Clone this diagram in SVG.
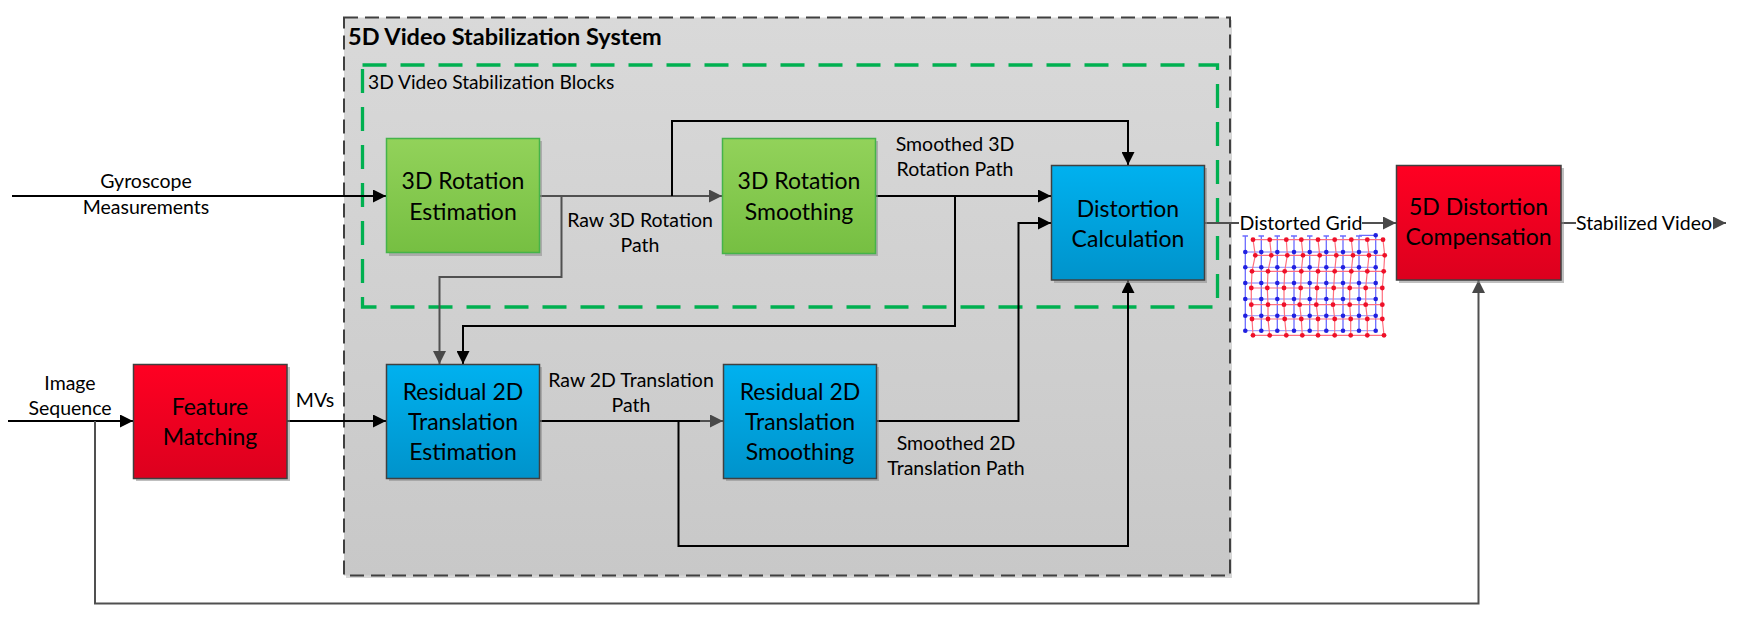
<svg xmlns="http://www.w3.org/2000/svg" width="1744" height="634" viewBox="0 0 1744 634">
<style>
text{font-family:Lato,"Liberation Sans",sans-serif;fill:#000}
.lbl{font-size:19.5px;text-anchor:middle}
.bt{font-size:23px;text-anchor:middle}
.title{font-size:23.5px;font-weight:bold}
.sub{font-size:19.2px}
.k{stroke:#000;stroke-width:2;fill:none}
.g{stroke:#505050;stroke-width:2;fill:none}
.shadow{fill:#8a8a8a;opacity:0.55}
.bl{stroke:#404040;stroke-width:1.5}
.bg{stroke:#45b34a;stroke-width:1.5}
.gl{stroke:#6b6bff;stroke-width:1.3;fill:none}
.rl{stroke:#ff6f7f;stroke-width:1.2;fill:none}
.bd{fill:#2020e0}
.rd{fill:#ee1028}
</style>
<defs>
<linearGradient id="gGreen" x1="0" y1="0" x2="0" y2="1"><stop offset="0" stop-color="#92d25a"/><stop offset="1" stop-color="#76bf42"/></linearGradient>
<linearGradient id="gBlue" x1="0" y1="0" x2="0" y2="1"><stop offset="0" stop-color="#00b1ef"/><stop offset="1" stop-color="#0093cb"/></linearGradient>
<linearGradient id="gRed" x1="0" y1="0" x2="0" y2="1"><stop offset="0" stop-color="#ff0022"/><stop offset="1" stop-color="#dc001e"/></linearGradient>
<linearGradient id="gSys" x1="0" y1="0" x2="0" y2="1"><stop offset="0" stop-color="#d9d9d9"/><stop offset="1" stop-color="#c8c8c8"/></linearGradient>
<marker id="aK" markerUnits="userSpaceOnUse" markerWidth="14" markerHeight="13" refX="13" refY="6.5" orient="auto"><path d="M0,0 L13,6.5 L0,13 z" fill="#000"/></marker>
<marker id="aG" markerUnits="userSpaceOnUse" markerWidth="14" markerHeight="13" refX="13" refY="6.5" orient="auto"><path d="M0,0 L13,6.5 L0,13 z" fill="#484848"/></marker>
</defs>

<g id="system">
<rect x="346" y="20" width="886" height="558" fill="#b0b0b0" opacity="0.5"/>
<rect x="344" y="17.5" width="886" height="558" fill="url(#gSys)" stroke="#404040" stroke-width="2" stroke-dasharray="14 7"/>
<text class="title" x="348" y="45">5D Video Stabilization System</text>
</g>
<g id="blocks3d">
<rect x="362.5" y="65" width="855" height="242" fill="none" stroke="#00b050" stroke-width="3.3" stroke-dasharray="24 14"/>
<text class="sub" x="368" y="89">3D Video Stabilization Blocks</text>
</g>

<g id="connectors">
<path class="k" d="M12,196 H386" marker-end="url(#aK)"/>
<path class="g" d="M539,196 H722" marker-end="url(#aG)"/>
<path class="k" d="M672,196 V121 H1128 V165" marker-end="url(#aK)"/>
<path class="g" d="M561.5,196 V277 H439.5 V364" marker-end="url(#aG)"/>
<path class="k" d="M876,196 H1051" marker-end="url(#aK)"/>
<path class="k" d="M955,196 V326 H463 V364" marker-end="url(#aK)"/>
<path class="k" d="M8,421 H133" marker-end="url(#aK)"/>
<path class="k" d="M287,421 H386" marker-end="url(#aK)"/>
<path class="k" d="M539,421 H700"/>
<path class="g" d="M700,421 H723" marker-end="url(#aG)"/>
<path class="k" d="M678.5,421 V546 H1128 V280" marker-end="url(#aK)"/>
<path class="k" d="M877,421 H1018.5 V223 H1051" marker-end="url(#aK)"/>
<path class="g" d="M1204,223 H1239"/>
<path class="g" d="M1362,223 H1396" marker-end="url(#aG)"/>
<path class="g" d="M1561,223 H1576"/>
<path class="g" d="M1713,223 H1726" marker-end="url(#aG)"/>
<path class="g" d="M95,421 V603.5 H1478.5 V280" marker-end="url(#aG)"/>
</g>

<g id="labels">
<text class="lbl" x="146" y="188">Gyroscope</text>
<text class="lbl" x="146" y="214">Measurements</text>
<text class="lbl" x="640" y="227">Raw 3D Rotation</text>
<text class="lbl" x="640" y="252">Path</text>
<text class="lbl" x="955" y="151">Smoothed 3D</text>
<text class="lbl" x="955" y="176">Rotation Path</text>
<text class="lbl" x="70" y="390">Image</text>
<text class="lbl" x="70" y="415">Sequence</text>
<text class="lbl" x="315" y="407">MVs</text>
<text class="lbl" x="631" y="387">Raw 2D Translation</text>
<text class="lbl" x="631" y="412">Path</text>
<text class="lbl" x="956" y="450">Smoothed 2D</text>
<text class="lbl" x="956" y="475">Translation Path</text>
<text class="lbl" x="1301" y="229.5">Distorted Grid</text>
<text class="lbl" x="1644" y="229.5">Stabilized Video</text>
</g>

<g id="rot-est">
<rect class="shadow" x="389" y="141" width="153" height="115"/>
<rect class="bg" x="386.5" y="138.5" width="153" height="114" fill="url(#gGreen)"/>
<text class="bt" x="463" y="188.5">3D Rotation</text>
<text class="bt" x="463" y="219.5">Estimation</text>
</g>
<g id="rot-smooth">
<rect class="shadow" x="725" y="141" width="153" height="115"/>
<rect class="bg" x="722.5" y="138.5" width="153" height="115" fill="url(#gGreen)"/>
<text class="bt" x="799" y="188.5">3D Rotation</text>
<text class="bt" x="799" y="219.5">Smoothing</text>
</g>
<g id="distortion-calc">
<rect class="shadow" x="1054" y="168" width="153" height="115"/>
<rect class="bl" x="1051.5" y="165.5" width="153" height="114.5" fill="url(#gBlue)"/>
<text class="bt" x="1128" y="216.5">Distortion</text>
<text class="bt" x="1128" y="246.5">Calculation</text>
</g>
<g id="compensation">
<rect class="shadow" x="1399" y="168" width="165" height="115"/>
<rect class="bl" x="1396.5" y="165.5" width="164.5" height="114.5" fill="url(#gRed)"/>
<text class="bt" x="1478.5" y="215">5D Distortion</text>
<text class="bt" x="1478.5" y="245">Compensation</text>
</g>
<g id="feature-matching">
<rect class="shadow" x="136" y="367" width="154" height="114"/>
<rect class="bl" x="133.5" y="364.5" width="153.5" height="114" fill="url(#gRed)"/>
<text class="bt" x="210" y="415">Feature</text>
<text class="bt" x="210" y="445">Matching</text>
</g>
<g id="trans-est">
<rect class="shadow" x="389" y="367" width="153" height="114"/>
<rect class="bl" x="386.5" y="364.5" width="153" height="114" fill="url(#gBlue)"/>
<text class="bt" x="463" y="400">Residual 2D</text>
<text class="bt" x="463" y="430">Translation</text>
<text class="bt" x="463" y="460">Estimation</text>
</g>
<g id="trans-smooth">
<rect class="shadow" x="726" y="367" width="153" height="114"/>
<rect class="bl" x="723.5" y="364.5" width="153" height="114" fill="url(#gBlue)"/>
<text class="bt" x="800" y="400">Residual 2D</text>
<text class="bt" x="800" y="430">Translation</text>
<text class="bt" x="800" y="460">Smoothing</text>
</g>

<g id="distorted-grid">
<g class="gl">
<path d="M1245.3,236 V331 M1261.3,236 V331 M1277.3,236 V331 M1294,236 V331 M1309.7,236 V331 M1326.3,236 V331 M1343,236 V331 M1359,236 V331 M1375.7,236 V331"/>
<path d="M1245.3,252 H1375.7 M1245.3,267.3 H1375.7 M1245.3,283 H1375.7 M1245.3,299 H1375.7 M1245.3,315.7 H1375.7 M1245.3,330.7 H1375.7" opacity="0.6"/>
<path d="M1242.5,236 H1248 M1258.5,236 H1264 M1274.5,236 H1280 M1291,236 H1297 M1307,236 H1312.5 M1323.5,236 H1329 M1340,236 H1346 M1356,236 H1362 M1359,235.3 H1375.7"/>
</g>
<g class="rl">
<path d="M1253,239.7 L1269.7,239.7 L1286.3,239.7 L1301.3,239.7 L1318,239.7 L1334.7,239.7 L1351.3,239.7 L1367.3,239.7 L1383,239.7"/>
<path d="M1255.3,255.3 L1271.3,255.3 L1287.3,255.3 L1303,255.3 L1319.7,255.3 L1336.3,255.3 L1353,255.3 L1369,255.3 L1384.7,255.3"/>
<path d="M1252,271.3 L1268,271.3 L1284.7,271.3 L1301.3,271.3 L1318,271.3 L1334.7,271.3 L1351.3,271.3 L1367.3,271.3 L1383.7,271.3"/>
<path d="M1251.3,288 L1267.3,288 L1284,288 L1300.7,288 L1317,288 L1333.7,288 L1349.7,288 L1365.7,288 L1382.3,288"/>
<path d="M1251.3,304.7 L1268,304.7 L1284,304.7 L1299.7,304.7 L1316.3,304.7 L1333,304.7 L1349.7,304.7 L1365.7,304.7 L1382.3,304.7"/>
<path d="M1252,319 L1268,319 L1284.7,319 L1301.3,319 L1318,319 L1334.7,319 L1350.7,319 L1367.3,319 L1382.3,319"/>
<path d="M1253,335.3 L1269.7,335.3 L1286.3,335.3 L1302.3,335.3 L1318,335.3 L1334.7,335.3 L1350.7,335.3 L1367.3,335.3 L1384,335.3"/>
<path d="M1253,239.7 L1255.3,255.3 L1252,271.3 L1251.3,288 L1251.3,304.7 L1252,319 L1253,335.3"/>
<path d="M1269.7,239.7 L1271.3,255.3 L1268,271.3 L1267.3,288 L1268,304.7 L1268,319 L1269.7,335.3"/>
<path d="M1286.3,239.7 L1287.3,255.3 L1284.7,271.3 L1284,288 L1284,304.7 L1284.7,319 L1286.3,335.3"/>
<path d="M1301.3,239.7 L1303,255.3 L1301.3,271.3 L1300.7,288 L1299.7,304.7 L1301.3,319 L1302.3,335.3"/>
<path d="M1318,239.7 L1319.7,255.3 L1318,271.3 L1317,288 L1316.3,304.7 L1318,319 L1318,335.3"/>
<path d="M1334.7,239.7 L1336.3,255.3 L1334.7,271.3 L1333.7,288 L1333,304.7 L1334.7,319 L1334.7,335.3"/>
<path d="M1351.3,239.7 L1353,255.3 L1351.3,271.3 L1349.7,288 L1349.7,304.7 L1350.7,319 L1350.7,335.3"/>
<path d="M1367.3,239.7 L1369,255.3 L1367.3,271.3 L1365.7,288 L1365.7,304.7 L1367.3,319 L1367.3,335.3"/>
<path d="M1383,239.7 L1384.7,255.3 L1383.7,271.3 L1382.3,288 L1382.3,304.7 L1382.3,319 L1384,335.3"/>
</g>
<g class="bd">
<circle cx="1375.7" cy="235.3" r="2.3"/>
<circle cx="1245.3" cy="252" r="2.3"/><circle cx="1261.3" cy="252" r="2.3"/><circle cx="1277.3" cy="252" r="2.3"/><circle cx="1294" cy="252" r="2.3"/><circle cx="1309.7" cy="252" r="2.3"/><circle cx="1326.3" cy="252" r="2.3"/><circle cx="1343" cy="252" r="2.3"/><circle cx="1359" cy="252" r="2.3"/><circle cx="1375.7" cy="252" r="2.3"/>
<circle cx="1245.3" cy="267.3" r="2.3"/><circle cx="1261.3" cy="267.3" r="2.3"/><circle cx="1277.3" cy="267.3" r="2.3"/><circle cx="1294" cy="267.3" r="2.3"/><circle cx="1309.7" cy="267.3" r="2.3"/><circle cx="1326.3" cy="267.3" r="2.3"/><circle cx="1343" cy="267.3" r="2.3"/><circle cx="1359" cy="267.3" r="2.3"/><circle cx="1375.7" cy="267.3" r="2.3"/>
<circle cx="1245.3" cy="283" r="2.3"/><circle cx="1261.3" cy="283" r="2.3"/><circle cx="1277.3" cy="283" r="2.3"/><circle cx="1294" cy="283" r="2.3"/><circle cx="1309.7" cy="283" r="2.3"/><circle cx="1326.3" cy="283" r="2.3"/><circle cx="1343" cy="283" r="2.3"/><circle cx="1359" cy="283" r="2.3"/><circle cx="1375.7" cy="283" r="2.3"/>
<circle cx="1245.3" cy="299" r="2.3"/><circle cx="1261.3" cy="299" r="2.3"/><circle cx="1277.3" cy="299" r="2.3"/><circle cx="1294" cy="299" r="2.3"/><circle cx="1309.7" cy="299" r="2.3"/><circle cx="1326.3" cy="299" r="2.3"/><circle cx="1343" cy="299" r="2.3"/><circle cx="1359" cy="299" r="2.3"/><circle cx="1375.7" cy="299" r="2.3"/>
<circle cx="1245.3" cy="315.7" r="2.3"/><circle cx="1261.3" cy="315.7" r="2.3"/><circle cx="1277.3" cy="315.7" r="2.3"/><circle cx="1294" cy="315.7" r="2.3"/><circle cx="1309.7" cy="315.7" r="2.3"/><circle cx="1326.3" cy="315.7" r="2.3"/><circle cx="1343" cy="315.7" r="2.3"/><circle cx="1359" cy="315.7" r="2.3"/><circle cx="1375.7" cy="315.7" r="2.3"/>
<circle cx="1245.3" cy="330.7" r="2.3"/><circle cx="1261.3" cy="330.7" r="2.3"/><circle cx="1277.3" cy="330.7" r="2.3"/><circle cx="1294" cy="330.7" r="2.3"/><circle cx="1309.7" cy="330.7" r="2.3"/><circle cx="1326.3" cy="330.7" r="2.3"/><circle cx="1343" cy="330.7" r="2.3"/><circle cx="1359" cy="330.7" r="2.3"/><circle cx="1375.7" cy="330.7" r="2.3"/>
</g>
<g class="rd">
<circle cx="1253" cy="239.7" r="2.4"/><circle cx="1269.7" cy="239.7" r="2.4"/><circle cx="1286.3" cy="239.7" r="2.4"/><circle cx="1301.3" cy="239.7" r="2.4"/><circle cx="1318" cy="239.7" r="2.4"/><circle cx="1334.7" cy="239.7" r="2.4"/><circle cx="1351.3" cy="239.7" r="2.4"/><circle cx="1367.3" cy="239.7" r="2.4"/><circle cx="1383" cy="239.7" r="2.4"/>
<circle cx="1255.3" cy="255.3" r="2.4"/><circle cx="1271.3" cy="255.3" r="2.4"/><circle cx="1287.3" cy="255.3" r="2.4"/><circle cx="1303" cy="255.3" r="2.4"/><circle cx="1319.7" cy="255.3" r="2.4"/><circle cx="1336.3" cy="255.3" r="2.4"/><circle cx="1353" cy="255.3" r="2.4"/><circle cx="1369" cy="255.3" r="2.4"/><circle cx="1384.7" cy="255.3" r="2.4"/>
<circle cx="1252" cy="271.3" r="2.4"/><circle cx="1268" cy="271.3" r="2.4"/><circle cx="1284.7" cy="271.3" r="2.4"/><circle cx="1301.3" cy="271.3" r="2.4"/><circle cx="1318" cy="271.3" r="2.4"/><circle cx="1334.7" cy="271.3" r="2.4"/><circle cx="1351.3" cy="271.3" r="2.4"/><circle cx="1367.3" cy="271.3" r="2.4"/><circle cx="1383.7" cy="271.3" r="2.4"/>
<circle cx="1251.3" cy="288" r="2.4"/><circle cx="1267.3" cy="288" r="2.4"/><circle cx="1284" cy="288" r="2.4"/><circle cx="1300.7" cy="288" r="2.4"/><circle cx="1317" cy="288" r="2.4"/><circle cx="1333.7" cy="288" r="2.4"/><circle cx="1349.7" cy="288" r="2.4"/><circle cx="1365.7" cy="288" r="2.4"/><circle cx="1382.3" cy="288" r="2.4"/>
<circle cx="1251.3" cy="304.7" r="2.4"/><circle cx="1268" cy="304.7" r="2.4"/><circle cx="1284" cy="304.7" r="2.4"/><circle cx="1299.7" cy="304.7" r="2.4"/><circle cx="1316.3" cy="304.7" r="2.4"/><circle cx="1333" cy="304.7" r="2.4"/><circle cx="1349.7" cy="304.7" r="2.4"/><circle cx="1365.7" cy="304.7" r="2.4"/><circle cx="1382.3" cy="304.7" r="2.4"/>
<circle cx="1252" cy="319" r="2.4"/><circle cx="1268" cy="319" r="2.4"/><circle cx="1284.7" cy="319" r="2.4"/><circle cx="1301.3" cy="319" r="2.4"/><circle cx="1318" cy="319" r="2.4"/><circle cx="1334.7" cy="319" r="2.4"/><circle cx="1350.7" cy="319" r="2.4"/><circle cx="1367.3" cy="319" r="2.4"/><circle cx="1382.3" cy="319" r="2.4"/>
<circle cx="1253" cy="335.3" r="2.4"/><circle cx="1269.7" cy="335.3" r="2.4"/><circle cx="1286.3" cy="335.3" r="2.4"/><circle cx="1302.3" cy="335.3" r="2.4"/><circle cx="1318" cy="335.3" r="2.4"/><circle cx="1334.7" cy="335.3" r="2.4"/><circle cx="1350.7" cy="335.3" r="2.4"/><circle cx="1367.3" cy="335.3" r="2.4"/><circle cx="1384" cy="335.3" r="2.4"/>
</g>
</g>
</svg>
